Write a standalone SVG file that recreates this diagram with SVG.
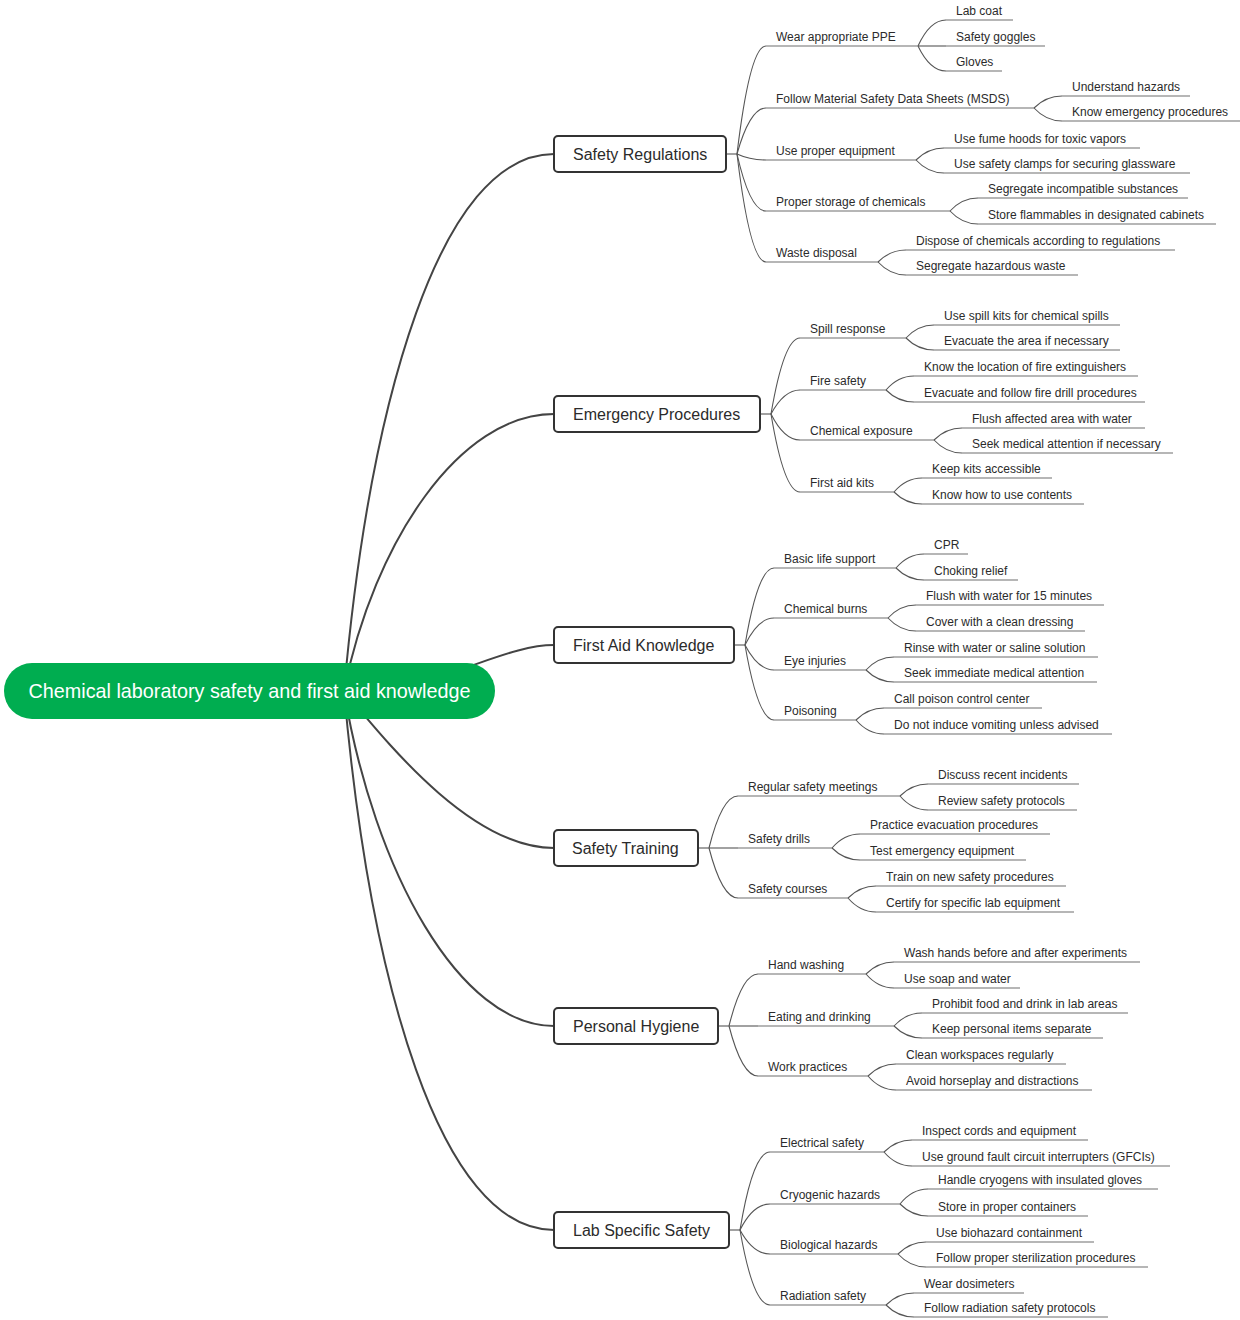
<svg xmlns="http://www.w3.org/2000/svg" width="1240" height="1320" viewBox="0 0 1240 1320">
<style>
text{font-family:"Liberation Sans",Arial,Helvetica,sans-serif;fill:#2b2b2b}
.t{font-size:12px}
.bt{font-size:16px}
.rt{font-size:19.8px;fill:#fff}
.box{fill:#fff;stroke:#333;stroke-width:2}
.ul{stroke:#6e6e6e;stroke-width:1.2;fill:none}
.c1{stroke:#444;stroke-width:2;fill:none}
.c2{stroke:#555;stroke-width:1.1;fill:none}
</style>
<rect width="1240" height="1320" fill="#fff"/>
<g id="connectors">
<path class="c1" d="M344,691 C370,400 440,154 554,154"/>
<path class="c1" d="M344,691 C374,541 460,414 554,414"/>
<path class="c1" d="M344,691 C440,691 500,645 554,645"/>
<path class="c1" d="M344,691 C385,740 470,848 554,848"/>
<path class="c1" d="M344,691 C374,872 460,1026 554,1026"/>
<path class="c1" d="M344,691 C370,982 440,1230 554,1230"/>
<!-- Safety Regulations -->
<path class="c2" d="M726,154 H737"/>
<path class="c2" d="M737,154 Q750,46 766,46"/>
<path class="c2" d="M737,154 Q750,108 766,108"/>
<path class="c2" d="M737,154 Q750,160 766,160"/>
<path class="c2" d="M737,154 Q750,211 766,211"/>
<path class="c2" d="M737,154 Q750,262 766,262"/>
<path class="c2" d="M918,46 Q930,20 946,20"/>
<path class="c2" d="M918,46 H946"/>
<path class="c2" d="M918,46 Q930,71 946,71"/>
<path class="c2" d="M1034,108 Q1046,96 1062,96"/>
<path class="c2" d="M1034,108 Q1046,121 1062,121"/>
<path class="c2" d="M916,160 Q928,148 944,148"/>
<path class="c2" d="M916,160 Q928,173 944,173"/>
<path class="c2" d="M950,211 Q962,198 978,198"/>
<path class="c2" d="M950,211 Q962,224 978,224"/>
<path class="c2" d="M878,262 Q890,250 906,250"/>
<path class="c2" d="M878,262 Q890,275 906,275"/>
<!-- Emergency Procedures -->
<path class="c2" d="M760,414 H771"/>
<path class="c2" d="M771,414 Q784,338 800,338"/>
<path class="c2" d="M771,414 Q784,390 800,390"/>
<path class="c2" d="M771,414 Q784,440 800,440"/>
<path class="c2" d="M771,414 Q784,492 800,492"/>
<path class="c2" d="M906,338 Q918,325 934,325"/>
<path class="c2" d="M906,338 Q918,350 934,350"/>
<path class="c2" d="M886,390 Q898,376 914,376"/>
<path class="c2" d="M886,390 Q898,402 914,402"/>
<path class="c2" d="M934,440 Q946,428 962,428"/>
<path class="c2" d="M934,440 Q946,453 962,453"/>
<path class="c2" d="M894,492 Q906,478 922,478"/>
<path class="c2" d="M894,492 Q906,504 922,504"/>
<!-- First Aid Knowledge -->
<path class="c2" d="M734,645 H745"/>
<path class="c2" d="M745,645 Q758,568 774,568"/>
<path class="c2" d="M745,645 Q758,618 774,618"/>
<path class="c2" d="M745,645 Q758,670 774,670"/>
<path class="c2" d="M745,645 Q758,720 774,720"/>
<path class="c2" d="M896,568 Q908,554 924,554"/>
<path class="c2" d="M896,568 Q908,580 924,580"/>
<path class="c2" d="M888,618 Q900,605 916,605"/>
<path class="c2" d="M888,618 Q900,631 916,631"/>
<path class="c2" d="M866,670 Q878,657 894,657"/>
<path class="c2" d="M866,670 Q878,682 894,682"/>
<path class="c2" d="M856,720 Q868,708 884,708"/>
<path class="c2" d="M856,720 Q868,734 884,734"/>
<!-- Safety Training -->
<path class="c2" d="M698,848 H709"/>
<path class="c2" d="M709,848 Q722,796 738,796"/>
<path class="c2" d="M709,848 H738"/>
<path class="c2" d="M709,848 Q722,898 738,898"/>
<path class="c2" d="M900,796 Q912,784 928,784"/>
<path class="c2" d="M900,796 Q912,810 928,810"/>
<path class="c2" d="M832,848 Q844,834 860,834"/>
<path class="c2" d="M832,848 Q844,860 860,860"/>
<path class="c2" d="M848,898 Q860,886 876,886"/>
<path class="c2" d="M848,898 Q860,912 876,912"/>
<!-- Personal Hygiene -->
<path class="c2" d="M718,1026 H729"/>
<path class="c2" d="M729,1026 Q742,974 758,974"/>
<path class="c2" d="M729,1026 H758"/>
<path class="c2" d="M729,1026 Q742,1076 758,1076"/>
<path class="c2" d="M866,974 Q878,962 894,962"/>
<path class="c2" d="M866,974 Q878,988 894,988"/>
<path class="c2" d="M894,1026 Q906,1013 922,1013"/>
<path class="c2" d="M894,1026 Q906,1038 922,1038"/>
<path class="c2" d="M868,1076 Q880,1064 896,1064"/>
<path class="c2" d="M868,1076 Q880,1090 896,1090"/>
<!-- Lab Specific Safety -->
<path class="c2" d="M729,1230 H740"/>
<path class="c2" d="M740,1230 Q753,1152 770,1152"/>
<path class="c2" d="M740,1230 Q753,1204 770,1204"/>
<path class="c2" d="M740,1230 Q753,1254 770,1254"/>
<path class="c2" d="M740,1230 Q753,1305 770,1305"/>
<path class="c2" d="M884,1152 Q896,1140 912,1140"/>
<path class="c2" d="M884,1152 Q896,1166 912,1166"/>
<path class="c2" d="M900,1204 Q912,1189 928,1189"/>
<path class="c2" d="M900,1204 Q912,1216 928,1216"/>
<path class="c2" d="M898,1254 Q910,1242 926,1242"/>
<path class="c2" d="M898,1254 Q910,1267 926,1267"/>
<path class="c2" d="M886,1305 Q898,1293 914,1293"/>
<path class="c2" d="M886,1305 Q898,1317 914,1317"/>
</g>

<g id="root">
<rect x="4" y="663" width="491" height="56" rx="28" fill="#00ad50"/>
<text class="rt" x="249.5" y="698" text-anchor="middle">Chemical laboratory safety and first aid knowledge</text>
</g>

<g id="safety-regulations"><rect class="box" x="554" y="136" width="172" height="36" rx="4"/><text class="bt" x="573" y="159.5">Safety Regulations</text></g>
<g id="wear-ppe"><path class="ul" d="M766,46 H918"/><text class="t" x="776" y="41">Wear appropriate PPE</text></g>
<g id="lab-coat"><path class="ul" d="M946,20 H1013"/><text class="t" x="956" y="15">Lab coat</text></g>
<g id="safety-goggles"><path class="ul" d="M946,46 H1045"/><text class="t" x="956" y="41">Safety goggles</text></g>
<g id="gloves"><path class="ul" d="M946,71 H1002"/><text class="t" x="956" y="66">Gloves</text></g>
<g id="msds"><path class="ul" d="M766,108 H1034"/><text class="t" x="776" y="103">Follow Material Safety Data Sheets (MSDS)</text></g>
<g id="understand-hazards"><path class="ul" d="M1062,96 H1190"/><text class="t" x="1072" y="91">Understand hazards</text></g>
<g id="know-emergency"><path class="ul" d="M1062,121 H1240"/><text class="t" x="1072" y="116">Know emergency procedures</text></g>
<g id="proper-equipment"><path class="ul" d="M766,160 H916"/><text class="t" x="776" y="155">Use proper equipment</text></g>
<g id="fume-hoods"><path class="ul" d="M944,148 H1140"/><text class="t" x="954" y="143">Use fume hoods for toxic vapors</text></g>
<g id="safety-clamps"><path class="ul" d="M944,173 H1190"/><text class="t" x="954" y="168">Use safety clamps for securing glassware</text></g>
<g id="storage"><path class="ul" d="M766,211 H950"/><text class="t" x="776" y="206">Proper storage of chemicals</text></g>
<g id="segregate-incompatible"><path class="ul" d="M978,198 H1188"/><text class="t" x="988" y="193">Segregate incompatible substances</text></g>
<g id="store-flammables"><path class="ul" d="M978,224 H1216"/><text class="t" x="988" y="219">Store flammables in designated cabinets</text></g>
<g id="waste-disposal"><path class="ul" d="M766,262 H878"/><text class="t" x="776" y="257">Waste disposal</text></g>
<g id="dispose-chemicals"><path class="ul" d="M906,250 H1175"/><text class="t" x="916" y="245">Dispose of chemicals according to regulations</text></g>
<g id="segregate-waste"><path class="ul" d="M906,275 H1078"/><text class="t" x="916" y="270">Segregate hazardous waste</text></g>

<g id="emergency-procedures"><rect class="box" x="554" y="396" width="206" height="36" rx="4"/><text class="bt" x="573" y="419.5">Emergency Procedures</text></g>
<g id="spill-response"><path class="ul" d="M800,338 H906"/><text class="t" x="810" y="333">Spill response</text></g>
<g id="spill-kits"><path class="ul" d="M934,325 H1120"/><text class="t" x="944" y="320">Use spill kits for chemical spills</text></g>
<g id="evacuate-area"><path class="ul" d="M934,350 H1120"/><text class="t" x="944" y="345">Evacuate the area if necessary</text></g>
<g id="fire-safety"><path class="ul" d="M800,390 H886"/><text class="t" x="810" y="385">Fire safety</text></g>
<g id="extinguishers"><path class="ul" d="M914,376 H1138"/><text class="t" x="924" y="371">Know the location of fire extinguishers</text></g>
<g id="fire-drill"><path class="ul" d="M914,402 H1145"/><text class="t" x="924" y="397">Evacuate and follow fire drill procedures</text></g>
<g id="chemical-exposure"><path class="ul" d="M800,440 H934"/><text class="t" x="810" y="435">Chemical exposure</text></g>
<g id="flush-area"><path class="ul" d="M962,428 H1145"/><text class="t" x="972" y="423">Flush affected area with water</text></g>
<g id="seek-medical"><path class="ul" d="M962,453 H1173"/><text class="t" x="972" y="448">Seek medical attention if necessary</text></g>
<g id="first-aid-kits"><path class="ul" d="M800,492 H894"/><text class="t" x="810" y="487">First aid kits</text></g>
<g id="kits-accessible"><path class="ul" d="M922,478 H1052"/><text class="t" x="932" y="473">Keep kits accessible</text></g>
<g id="use-contents"><path class="ul" d="M922,504 H1084"/><text class="t" x="932" y="499">Know how to use contents</text></g>

<g id="first-aid-knowledge"><rect class="box" x="554" y="627" width="180" height="36" rx="4"/><text class="bt" x="573" y="650.5">First Aid Knowledge</text></g>
<g id="basic-life-support"><path class="ul" d="M774,568 H896"/><text class="t" x="784" y="563">Basic life support</text></g>
<g id="cpr"><path class="ul" d="M924,554 H968"/><text class="t" x="934" y="549">CPR</text></g>
<g id="choking-relief"><path class="ul" d="M924,580 H1018"/><text class="t" x="934" y="575">Choking relief</text></g>
<g id="chemical-burns"><path class="ul" d="M774,618 H888"/><text class="t" x="784" y="613">Chemical burns</text></g>
<g id="flush-15"><path class="ul" d="M916,605 H1104"/><text class="t" x="926" y="600">Flush with water for 15 minutes</text></g>
<g id="cover-dressing"><path class="ul" d="M916,631 H1085"/><text class="t" x="926" y="626">Cover with a clean dressing</text></g>
<g id="eye-injuries"><path class="ul" d="M774,670 H866"/><text class="t" x="784" y="665">Eye injuries</text></g>
<g id="rinse"><path class="ul" d="M894,657 H1098"/><text class="t" x="904" y="652">Rinse with water or saline solution</text></g>
<g id="seek-immediate"><path class="ul" d="M894,682 H1097"/><text class="t" x="904" y="677">Seek immediate medical attention</text></g>
<g id="poisoning"><path class="ul" d="M774,720 H856"/><text class="t" x="784" y="715">Poisoning</text></g>
<g id="poison-control"><path class="ul" d="M884,708 H1042"/><text class="t" x="894" y="703">Call poison control center</text></g>
<g id="no-vomiting"><path class="ul" d="M884,734 H1112"/><text class="t" x="894" y="729">Do not induce vomiting unless advised</text></g>

<g id="safety-training"><rect class="box" x="554" y="830" width="144" height="36" rx="4"/><text class="bt" x="572" y="853.5">Safety Training</text></g>
<g id="safety-meetings"><path class="ul" d="M738,796 H900"/><text class="t" x="748" y="791">Regular safety meetings</text></g>
<g id="recent-incidents"><path class="ul" d="M928,784 H1079"/><text class="t" x="938" y="779">Discuss recent incidents</text></g>
<g id="review-protocols"><path class="ul" d="M928,810 H1077"/><text class="t" x="938" y="805">Review safety protocols</text></g>
<g id="safety-drills"><path class="ul" d="M738,848 H832"/><text class="t" x="748" y="843">Safety drills</text></g>
<g id="practice-evacuation"><path class="ul" d="M860,834 H1050"/><text class="t" x="870" y="829">Practice evacuation procedures</text></g>
<g id="test-equipment"><path class="ul" d="M860,860 H1026"/><text class="t" x="870" y="855">Test emergency equipment</text></g>
<g id="safety-courses"><path class="ul" d="M738,898 H848"/><text class="t" x="748" y="893">Safety courses</text></g>
<g id="train-procedures"><path class="ul" d="M876,886 H1066"/><text class="t" x="886" y="881">Train on new safety procedures</text></g>
<g id="certify"><path class="ul" d="M876,912 H1074"/><text class="t" x="886" y="907">Certify for specific lab equipment</text></g>

<g id="personal-hygiene"><rect class="box" x="554" y="1008" width="164" height="36" rx="4"/><text class="bt" x="573" y="1031.5">Personal Hygiene</text></g>
<g id="hand-washing"><path class="ul" d="M758,974 H866"/><text class="t" x="768" y="969">Hand washing</text></g>
<g id="wash-hands"><path class="ul" d="M894,962 H1140"/><text class="t" x="904" y="957">Wash hands before and after experiments</text></g>
<g id="soap-water"><path class="ul" d="M894,988 H1020"/><text class="t" x="904" y="983">Use soap and water</text></g>
<g id="eating-drinking"><path class="ul" d="M758,1026 H894"/><text class="t" x="768" y="1021">Eating and drinking</text></g>
<g id="prohibit-food"><path class="ul" d="M922,1013 H1128"/><text class="t" x="932" y="1008">Prohibit food and drink in lab areas</text></g>
<g id="personal-items"><path class="ul" d="M922,1038 H1103"/><text class="t" x="932" y="1033">Keep personal items separate</text></g>
<g id="work-practices"><path class="ul" d="M758,1076 H868"/><text class="t" x="768" y="1071">Work practices</text></g>
<g id="clean-workspaces"><path class="ul" d="M896,1064 H1066"/><text class="t" x="906" y="1059">Clean workspaces regularly</text></g>
<g id="avoid-horseplay"><path class="ul" d="M896,1090 H1092"/><text class="t" x="906" y="1085">Avoid horseplay and distractions</text></g>

<g id="lab-specific-safety"><rect class="box" x="554" y="1212" width="175" height="36" rx="4"/><text class="bt" x="573" y="1235.5">Lab Specific Safety</text></g>
<g id="electrical-safety"><path class="ul" d="M770,1152 H884"/><text class="t" x="780" y="1147">Electrical safety</text></g>
<g id="inspect-cords"><path class="ul" d="M912,1140 H1088"/><text class="t" x="922" y="1135">Inspect cords and equipment</text></g>
<g id="gfci"><path class="ul" d="M912,1166 H1170"/><text class="t" x="922" y="1161">Use ground fault circuit interrupters (GFCIs)</text></g>
<g id="cryogenic-hazards"><path class="ul" d="M770,1204 H900"/><text class="t" x="780" y="1199">Cryogenic hazards</text></g>
<g id="cryogen-gloves"><path class="ul" d="M928,1189 H1158"/><text class="t" x="938" y="1184">Handle cryogens with insulated gloves</text></g>
<g id="proper-containers"><path class="ul" d="M928,1216 H1088"/><text class="t" x="938" y="1211">Store in proper containers</text></g>
<g id="biological-hazards"><path class="ul" d="M770,1254 H898"/><text class="t" x="780" y="1249">Biological hazards</text></g>
<g id="biohazard-containment"><path class="ul" d="M926,1242 H1094"/><text class="t" x="936" y="1237">Use biohazard containment</text></g>
<g id="sterilization"><path class="ul" d="M926,1267 H1148"/><text class="t" x="936" y="1262">Follow proper sterilization procedures</text></g>
<g id="radiation-safety"><path class="ul" d="M770,1305 H886"/><text class="t" x="780" y="1300">Radiation safety</text></g>
<g id="dosimeters"><path class="ul" d="M914,1293 H1024"/><text class="t" x="924" y="1288">Wear dosimeters</text></g>
<g id="radiation-protocols"><path class="ul" d="M914,1317 H1108"/><text class="t" x="924" y="1312">Follow radiation safety protocols</text></g>
</svg>
